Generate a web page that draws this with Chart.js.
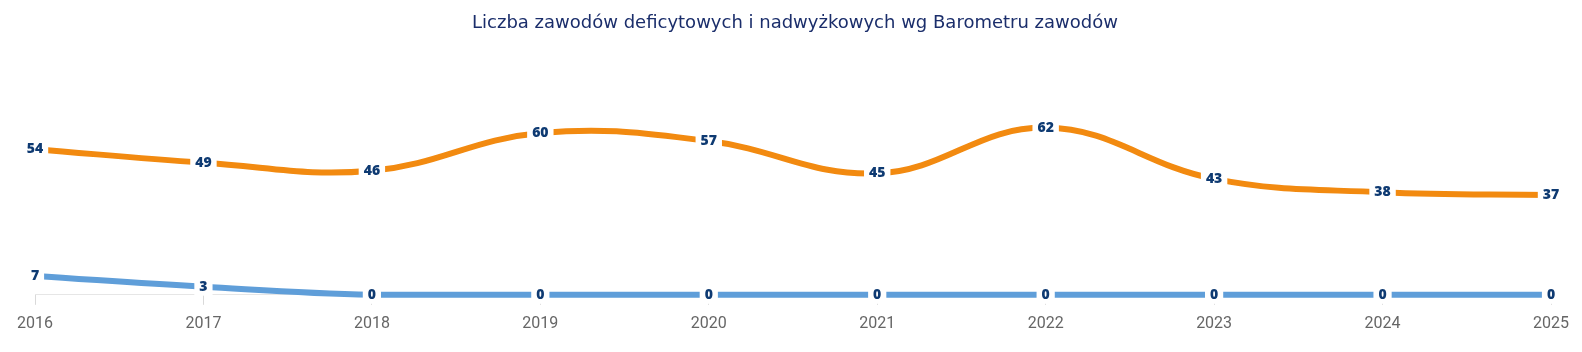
<!DOCTYPE html>
<html><head><meta charset="utf-8">
<script src="https://cdn.jsdelivr.net/npm/chart.js@4.4.1/dist/chart.umd.min.js"></script>
<style>html,body{margin:0;padding:0;background:#fff}#wrap{width:1582px;height:352px}</style>
</head><body><div id="wrap"><canvas id="c" width="1582" height="352"></canvas></div>
<script>
const categories = ['2016','2017','2018','2019','2020','2021','2022','2023','2024','2025'];
const deficitValues = [54, 49, 46, 60, 57, 45, 62, 43, 38, 37];
const surplusValues = [7, 3, 0, 0, 0, 0, 0, 0, 0, 0];
const titleText = 'Liczba zawodów deficytowych i nadwyżkowych wg Barometru zawodów';

const titlePlugin = {
  id: 'titleP',
  afterDraw(chart) {
    const ctx = chart.ctx;
    ctx.save();
    ctx.font = '18px "DejaVu Sans"';
    ctx.fillStyle = '#1b2e6b';
    ctx.textAlign = 'center';
    ctx.textBaseline = 'middle';
    ctx.fillText(titleText, 795, 23);
    ctx.restore();
  }
};
const labelPlugin = {
  id: 'labelsP',
  afterDatasetsDraw(chart) {
    const ctx = chart.ctx;
    ctx.save();
    ctx.font = '800 14px "Open Sans"';
    ctx.textAlign = 'center';
    ctx.textBaseline = 'middle';
    chart.data.datasets.forEach((ds, i) => {
      const meta = chart.getDatasetMeta(i);
      meta.data.forEach((pt, j) => {
        const t = String(ds.data[j]);
        const w = ctx.measureText(t).width;
        ctx.fillStyle = '#ffffff';
        ctx.fillRect(pt.x - w/2 - 5, pt.y - 9, w + 10, 18);
        ctx.fillStyle = '#0e3a72';
        ctx.fillText(t, pt.x, pt.y);
      });
    });
    ctx.restore();
  }
};
new Chart(document.getElementById('c'), {
  type: 'line',
  data: {
    labels: categories,
    datasets: [
      { label: 'Deficytowe', data: deficitValues, borderColor: '#f28a10', borderWidth: 6, tension: 0.4, pointRadius: 0, fill: false, clip: false },
      { label: 'Nadwyżkowe', data: surplusValues, borderColor: '#5f9ed9', borderWidth: 6, tension: 0.4, pointRadius: 0, fill: false, clip: false }
    ]
  },
  options: {
    responsive: false,
    animation: false,
    layout: { padding: { left: 35, right: 31, top: 106, bottom: 8 } },
    plugins: { legend: { display: false }, tooltip: { enabled: false }, title: { display: false } },
    scales: {
      x: {
        offset: false,
        grid: { drawOnChartArea: false, drawTicks: true, tickLength: 10, color: '#d9d9d9' },
        border: { display: true, color: '#e6e6e6' },
        ticks: { color: '#666666', font: { family: 'Roboto', size: 16 }, padding: 10, maxRotation: 0 }
      },
      y: { display: false, min: 0, max: 70 }
    }
  },
  plugins: [titlePlugin, labelPlugin]
});
</script></body></html>
